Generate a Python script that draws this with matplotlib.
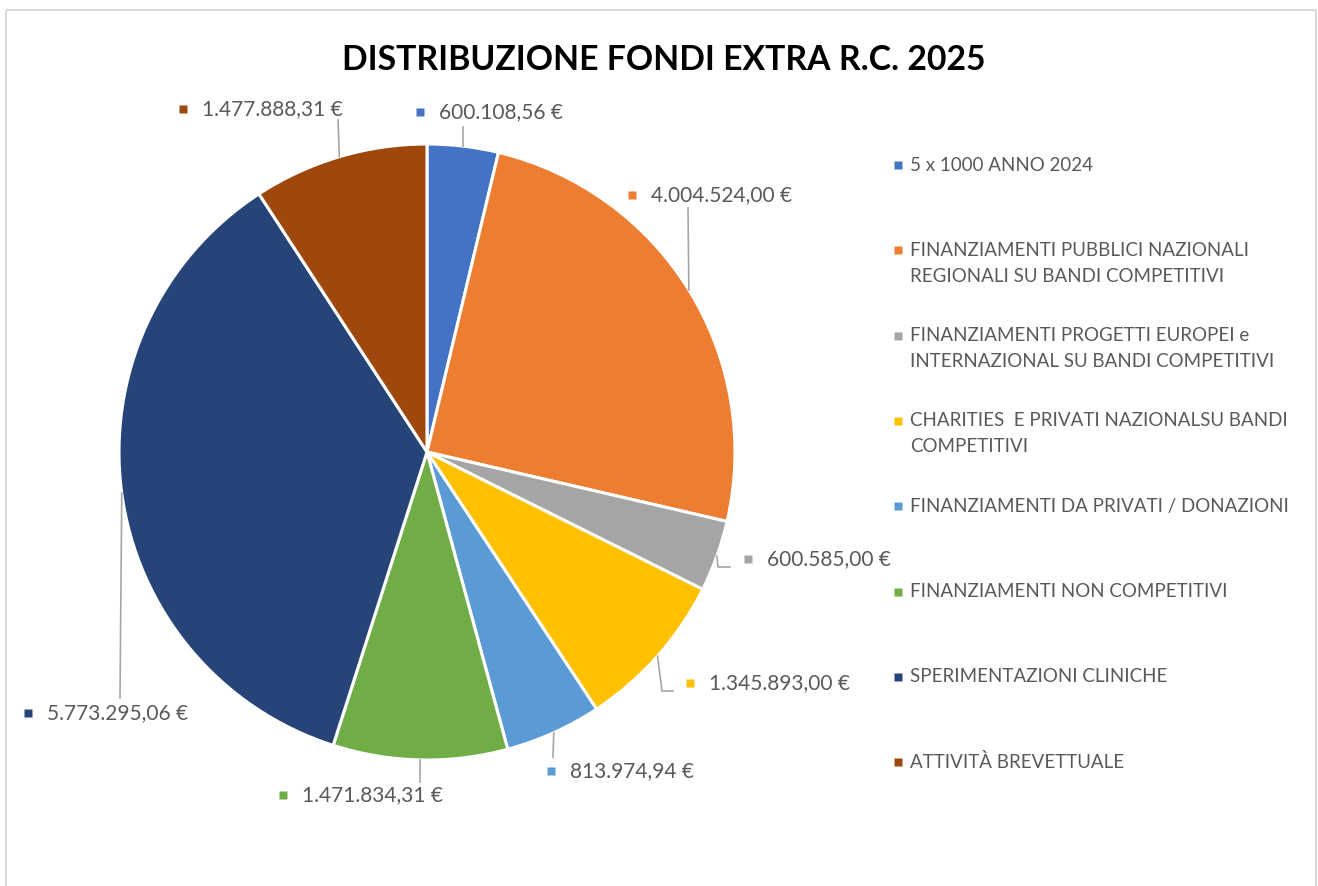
import matplotlib
matplotlib.use("Agg")
import matplotlib.pyplot as plt
import numpy as np
from matplotlib.patches import Rectangle

plt.rcParams["font.family"] = ["Lato", "DejaVu Sans"]

TITLE = "DISTRIBUZIONE FONDI EXTRA R.C. 2025"
CATEGORIES = [
    "5 x 1000 ANNO 2024",
    "FINANZIAMENTI PUBBLICI NAZIONALI\nREGIONALI SU BANDI COMPETITIVI",
    "FINANZIAMENTI PROGETTI EUROPEI e\nINTERNAZIONAL SU BANDI COMPETITIVI",
    "CHARITIES  E PRIVATI NAZIONALSU BANDI\nCOMPETITIVI",
    "FINANZIAMENTI DA PRIVATI / DONAZIONI",
    "FINANZIAMENTI NON COMPETITIVI",
    "SPERIMENTAZIONI CLINICHE",
    "ATTIVITÀ BREVETTUALE",
]
VALUES = [600108.56, 4004524.00, 600585.00, 1345893.00,
          813974.94, 1471834.31, 5773295.06, 1477888.31]
COLORS = ["#4472C4", "#ED7D31", "#A5A5A5", "#FFC000",
          "#5B9BD5", "#70AD47", "#264478", "#9E480E"]

# layout in pixel coordinates (y grows downward)
W, H = 1318, 886
CENTER, RADIUS = (427, 452), 308
LABEL_POS = [(420, 112), (632, 195), (748, 559), (690, 683),
             (551, 771), (283, 795), (28, 713), (183, 109)]
LEADER_PTS = [[(463, 127)], [(688, 208)], [(718, 567), (730, 567)],
              [(662, 691), (673, 691)], [(553, 757)], [(420, 782)],
              [(120, 698)], [(338, 120)]]
TEXT_GRAY = "#595959"
LINE_GRAY = "#A6A6A6"


def fmt_eur(v):
    s = f"{v:,.2f}".replace(",", "X").replace(".", ",").replace("X", ".")
    return f"{s} €"


def main():
    fig = plt.figure(figsize=(W / 100, H / 100), dpi=100)
    ax = fig.add_axes([0, 0, 1, 1])

    ax.pie(VALUES, colors=COLORS, startangle=-90, counterclock=True,
           center=CENTER, radius=RADIUS,
           wedgeprops=dict(edgecolor="white", linewidth=2.2))
    ax.set_xlim(0, W)
    ax.set_ylim(H, 0)
    ax.set_aspect("equal")
    ax.axis("off")

    ax.add_patch(Rectangle((6, 10), 1310, 900, fill=False,
                           edgecolor="#D9D9D9", lw=1.5))

    ax.text(664, 60, TITLE, ha="center", va="center", fontsize=24.3,
            fontweight="bold", color="black")

    # data labels with leader lines from slice midpoints
    total = sum(VALUES)
    cum = np.cumsum([0] + VALUES)
    for i, v in enumerate(VALUES):
        mid = np.deg2rad((cum[i] + v / 2) / total * 360)
        ax_pt = (CENTER[0] + RADIUS * np.sin(mid), CENTER[1] - RADIUS * np.cos(mid))
        pts = [ax_pt] + LEADER_PTS[i]
        ax.plot([p[0] for p in pts], [p[1] for p in pts], color=LINE_GRAY, lw=1.2)
        x, y = LABEL_POS[i]
        ax.plot(x, y, marker="s", ms=5.5, color=COLORS[i], mec="none")
        ax.text(x + 19, y, fmt_eur(v), ha="left", va="center", fontsize=15,
                color=TEXT_GRAY)

    # legend
    for i, name in enumerate(CATEGORIES):
        y0 = 165 + 85.3 * i
        ax.plot(898, y0, marker="s", ms=5.5, color=COLORS[i], mec="none")
        for k, line in enumerate(name.split("\n")):
            ax.text(910, y0 + 26 * k, line, ha="left", va="center",
                    fontsize=13.5, color=TEXT_GRAY)

    fig.savefig("out.png", dpi=100)


if __name__ == "__main__":
    main()
